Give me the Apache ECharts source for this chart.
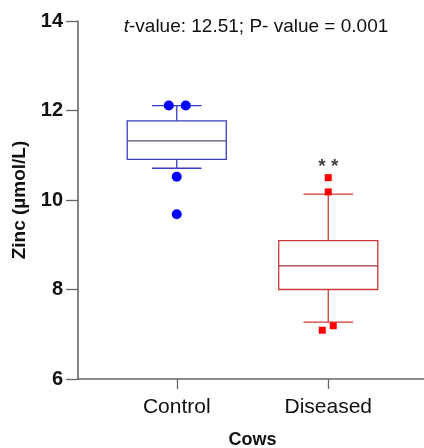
<!DOCTYPE html>
<html>
<head>
<meta charset="utf-8">
<script src="https://cdn.jsdelivr.net/npm/echarts@6/dist/echarts.min.js"></script>
<style>
  html, body { margin: 0; padding: 0; background: #fff; }
  #chart { width: 424px; height: 448px; }
</style>
</head>
<body>
<div id="chart"></div>
<script>
// groups on the x axis
var groups = ['Control', 'Diseased'];
// box stats: [min whisker, q1, median, q3, max whisker]
var controlBox = [10.71, 10.91, 11.32, 11.77, 12.11];
var diseasedBox = [7.27, 8.00, 8.53, 9.09, 10.13];
// points drawn outside the box
var controlPoints = [12.11, 12.11, 10.52, 9.68];
var diseasedPoints = [10.50, 10.18, 7.09, 7.19];
// y ticks
var yTicks = [6, 8, 10, 12, 14];

var FONT = 'Liberation Sans, Arial, sans-serif';

var chart = echarts.init(document.getElementById('chart'));

var colors = {
  Control: { line: '#3b3bc4', median: '#55557a', dot: '#0000ff' },
  Diseased: { line: '#cc3a3a', median: '#993333', dot: '#ff0000' }
};

// little horizontal spread so the dots don't sit on each other
var jitter = {
  Control: [-8, 9, 0, 0],
  Diseased: [0, 0, -6, 5]
};

function renderBox(params, api) {
  var cat = api.value(0);
  var c = colors[groups[cat]];
  var band = api.size([1, 0])[0];
  var hw = band * 0.327;
  var cw = hw * 0.5;
  var x = api.coord([cat, 0])[0];
  var yMin = api.coord([cat, api.value(1)])[1];
  var yQ1 = api.coord([cat, api.value(2)])[1];
  var yMed = api.coord([cat, api.value(3)])[1];
  var yQ3 = api.coord([cat, api.value(4)])[1];
  var yMax = api.coord([cat, api.value(5)])[1];
  var st = { stroke: c.line, lineWidth: 1.3 };
  return {
    type: 'group',
    children: [
      { type: 'rect', shape: { x: x - hw, y: yQ3, width: hw * 2, height: yQ1 - yQ3 }, style: { stroke: c.line, lineWidth: 1.3, fill: 'rgba(0,0,0,0)' } },
      { type: 'line', shape: { x1: x - hw, y1: yMed, x2: x + hw, y2: yMed }, style: { stroke: c.median, lineWidth: 1.3 } },
      { type: 'line', shape: { x1: x, y1: yQ3, x2: x, y2: yMax }, style: st },
      { type: 'line', shape: { x1: x, y1: yQ1, x2: x, y2: yMin }, style: st },
      { type: 'line', shape: { x1: x - cw, y1: yMax, x2: x + cw, y2: yMax }, style: st },
      { type: 'line', shape: { x1: x - cw, y1: yMin, x2: x + cw, y2: yMin }, style: st }
    ]
  };
}

function pointData(name, vals) {
  return vals.map(function (v, i) {
    return { value: [name, v], symbolOffset: [jitter[name][i], 0] };
  });
}

var yCommon = { type: 'value', min: 6, max: 14, interval: 2 };

var option = {
  backgroundColor: '#fff',
  animation: false,
  title: {
    text: '{i|t}-value: 12.51; P- value = 0.001',
    left: 251,
    textAlign: 'center',
    top: 12,
    textStyle: {
      fontFamily: FONT,
      fontSize: 19,
      fontWeight: 'normal',
      color: '#111',
      rich: {
        i: { fontStyle: 'italic', fontSize: 19, color: '#111', fontFamily: FONT }
      }
    }
  },
  grid: [
    { left: 78, right: 0, top: 21, bottom: 69, outerBoundsMode: 'none', containLabel: false },
    { left: 101, right: 20, top: 21, bottom: 69, outerBoundsMode: 'none', containLabel: false }
  ],
  xAxis: [
    {
      gridIndex: 0, type: 'value', min: 0, max: 1,
      axisLine: { show: true, lineStyle: { color: '#666', width: 1.6 } },
      axisTick: { show: false }, axisLabel: { show: false }, splitLine: { show: false }
    },
    {
      gridIndex: 1, type: 'category', data: groups,
      axisLine: { show: false },
      axisTick: { show: true, alignWithLabel: true, length: 10, lineStyle: { color: '#666', width: 1.3 } },
      axisLabel: { fontSize: 21, color: '#111', margin: 18, fontFamily: FONT },
      splitLine: { show: false },
      name: 'Cows', nameLocation: 'middle', nameGap: 52,
      nameTextStyle: { fontSize: 18, fontWeight: 'bold', color: '#111', fontFamily: FONT }
    }
  ],
  yAxis: [
    Object.assign({}, yCommon, {
      gridIndex: 0,
      axisLine: { show: true, lineStyle: { color: '#666', width: 1.6 } },
      axisTick: { show: true, length: 12, lineStyle: { color: '#666', width: 1.3 } },
      axisLabel: {
        fontSize: 20, fontWeight: 'bold', color: '#111', margin: 15,
        fontFamily: FONT,
        formatter: function (v) { return yTicks.indexOf(v) >= 0 ? String(v) : ''; }
      },
      splitLine: { show: false },
      name: 'Zinc (µmol/L)', nameLocation: 'middle', nameGap: 49,
      nameTextStyle: { fontSize: 19, fontWeight: 'bold', color: '#111', fontFamily: FONT }
    }),
    Object.assign({}, yCommon, { gridIndex: 1, show: false })
  ],
  series: [
    {
      type: 'custom',
      xAxisIndex: 1, yAxisIndex: 1,
      renderItem: renderBox,
      encode: { x: 0, y: [1, 2, 3, 4, 5] },
      data: [[0].concat(controlBox), [1].concat(diseasedBox)],
      z: 2
    },
    {
      type: 'scatter', xAxisIndex: 1, yAxisIndex: 1,
      symbol: 'circle', symbolSize: 10,
      itemStyle: { color: colors.Control.dot, opacity: 1 },
      data: pointData('Control', controlPoints), z: 3
    },
    {
      type: 'scatter', xAxisIndex: 1, yAxisIndex: 1,
      symbol: 'rect', symbolSize: 7,
      itemStyle: { color: colors.Diseased.dot, opacity: 1 },
      data: pointData('Diseased', diseasedPoints), z: 3
    },
    {
      type: 'scatter', xAxisIndex: 1, yAxisIndex: 1,
      symbolSize: 0,
      label: { show: true, position: 'inside', formatter: '* *', fontSize: 19, fontWeight: 'bold', color: '#111', fontFamily: FONT },
      data: [['Diseased', 10.74]],
      silent: true
    }
  ]
};

chart.setOption(option);
</script>
</body>
</html>
